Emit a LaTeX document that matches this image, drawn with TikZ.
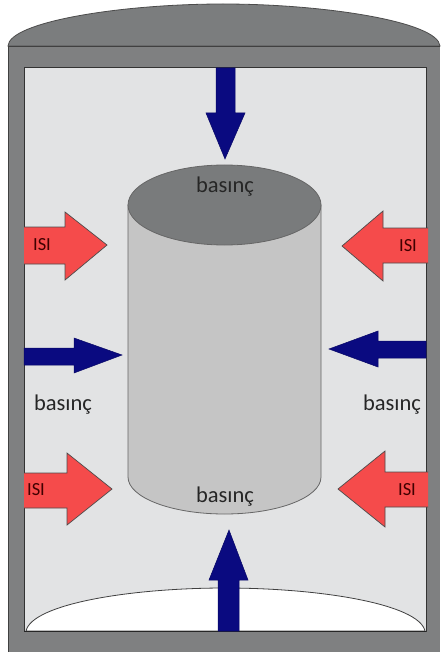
\documentclass[tikz,border=0pt]{standalone}
\usepackage{fontspec}
\setmainfont{Carlito}
\begin{document}
\begin{tikzpicture}[x=1pt,y=-1pt,
  outline/.style={draw=black!80,line width=0.8pt},
  heatarrow/.style={fill=heatred,draw=black!70,line width=0.7pt,line join=miter},
  pressarrow/.style={fill=navy,draw=navy!80!black,line width=0.5pt},
  word/.style={font=\fontsize{22.5}{24}\selectfont,text=black!85,inner sep=0pt},
  heatword/.style={font=\fontsize{18.5}{20}\selectfont,text=black!75!red,inner sep=0pt}]
\definecolor{wallgrey}{HTML}{7F8081}
\definecolor{domegrey}{HTML}{7B7D7E}
\definecolor{chamber}{HTML}{E2E3E4}
\definecolor{body}{HTML}{C5C5C5}
\definecolor{lid}{HTML}{797B7C}
\definecolor{heatred}{HTML}{F54B4B}
\definecolor{navy}{HTML}{0A0A80}
\useasboundingbox (0,0) rectangle (440,655);
\fill[white] (0,0) rectangle (440,655);

% vessel lid and wall
\draw[fill=domegrey,draw=black!70,line width=0.8pt]
  (8,46) .. controls (9,22) and (120,4) .. (223,4)
         .. controls (326,4) and (438,22) .. (440,46) -- cycle;
\fill[wallgrey] (8,46) rectangle (440,652);
\draw[black!75,line width=0.8pt] (8,46) -- (440,46);
\draw[black!75,line width=0.8pt] (8,46) -- (8,652);
\draw[fill=chamber,outline] (24,67) rectangle (426,631);

% white base dome
\draw[fill=white,draw=black!75,line width=0.8pt]
  (26,631) .. controls (32,604) and (130,588) .. (225,588)
           .. controls (320,588) and (419,604) .. (425,631) -- cycle;
\draw[black!85,line width=1pt] (24,631) -- (426,631);

% cylinder sample
\draw[fill=body,draw=black!60,line width=0.8pt]
  (128,205) -- (128,477) arc[start angle=180,end angle=0,x radius=96.5,y radius=37]
  -- (321,205) -- cycle;
\draw[fill=lid,draw=black!60,line width=0.8pt] (224.5,205) ellipse[x radius=96.5,y radius=40];

% pressure arrows
\draw[pressarrow] (216,68) -- (235,68) -- (235,113) -- (245,113) -- (225,159)
  -- (206,113) -- (216,113) -- cycle;
\draw[pressarrow] (218,631) -- (239,631) -- (239,580) -- (248,580) -- (229,530)
  -- (209,580) -- (218,580) -- cycle;
\draw[pressarrow] (24,348) -- (74,348) -- (74,338) -- (122,355) -- (74,373)
  -- (74,365) -- (24,365) -- cycle;
\draw[pressarrow] (426,341) -- (378,341) -- (378,331) -- (329,349) -- (378,367)
  -- (378,358) -- (426,358) -- cycle;

% heat arrows
\draw[heatarrow] (24,227) -- (65,227) -- (65,212) -- (107,245) -- (65,280)
  -- (65,264) -- (24,264);
\draw[heatarrow] (428,228) -- (383,228) -- (383,211) -- (342,246) -- (383,281)
  -- (383,263) -- (428,263);
\draw[heatarrow] (24,473) -- (67,473) -- (67,453) -- (112,489) -- (67,525)
  -- (67,508) -- (24,508);
\draw[heatarrow] (428,472) -- (385,472) -- (385,451) -- (338,489) -- (385,527)
  -- (385,507) -- (428,507);

% labels
\node[word,anchor=base] (ptop) at (225,192) {basınç};
\node[word,anchor=base] (pbot) at (225,502) {basınç};
\node[word,anchor=base] (pleft) at (63,410) {basınç};
\node[word,anchor=base] (pright) at (392,410) {basınç};
\node[heatword] (h1) at (42,245) {ISI};
\node[heatword] (h2) at (408,246) {ISI};
\node[heatword] (h3) at (36,490) {ISI};
\node[heatword] (h4) at (407,490) {ISI};
\end{tikzpicture}
\end{document}
